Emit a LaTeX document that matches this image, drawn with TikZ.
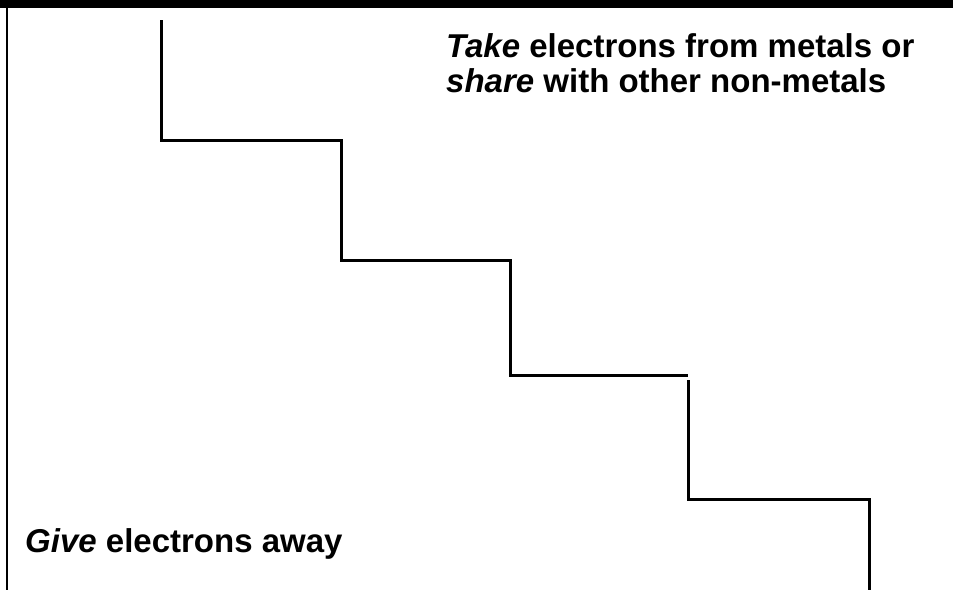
\documentclass[tikz,border=0pt]{standalone}
\usepackage{fontspec}
\setmainfont{Liberation Sans}
\begin{document}
\begin{tikzpicture}[x=1pt,y=-1pt,
  stair/.style={line width=3pt},
  lbl/.style={inner sep=0pt,anchor=base west,font=\fontsize{33}{36}\selectfont\bfseries}]
\useasboundingbox (0,0) rectangle (953,590);
\fill[white] (0,0) rectangle (953,590);
\fill[black] (0,0) rectangle (953,8);
\draw[line width=2.5pt] (7,0) -- (7,590);
\draw[stair] (161,20) -- (161,140) -- (341,140) -- (341,260) -- (510,260) -- (510,377);
\draw[stair] (510,375) -- (688,375);
\draw[stair] (688,380) -- (688,499) -- (869,499) -- (869,590);
\node[lbl] (take) at (446,57) {\textit{Take} electrons from metals or};
\node[lbl] (share) at (446,92.5) {\textit{share} with other non-metals};
\node[lbl] (give) at (25,552) {\textit{Give} electrons away};
\end{tikzpicture}
\end{document}
